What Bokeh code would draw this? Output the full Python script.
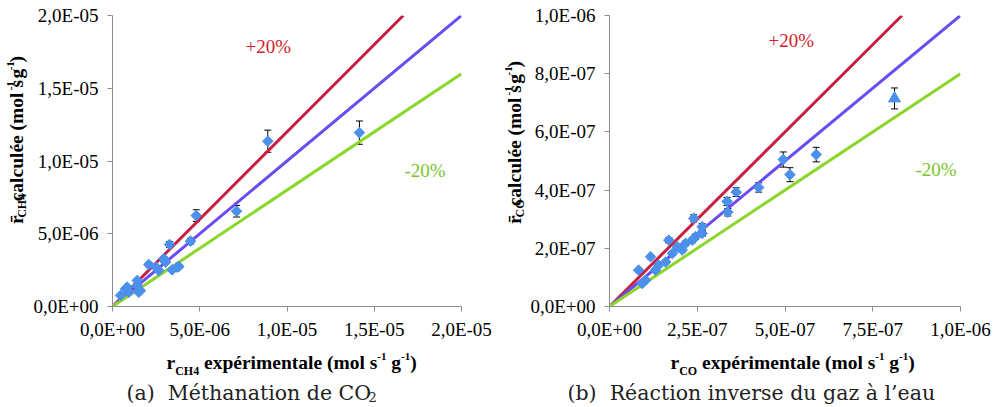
import math
from bokeh.plotting import figure
from bokeh.models import Label, Whisker, ColumnDataSource, FixedTicker, TeeHead, Range1d
from bokeh.layouts import row, column
from bokeh.embed import file_html
from bokeh.resources import INLINE

# ---------------- data ----------------
# (a) CO2 methanation, values in units of 1E-06 mol s-1 g-1
ch4_exp = [0.46, 0.74, 0.84, 0.93, 1.42, 1.51, 1.60, 1.41, 2.08, 2.65, 2.94, 3.04, 3.27, 3.42, 3.71, 3.80, 2.50, 4.47, 4.80, 7.11, 8.90, 14.15]
ch4_calc = [0.76, 1.22, 1.33, 0.98, 1.79, 0.98, 1.10, 1.44, 2.88, 2.47, 3.28, 3.05, 4.26, 2.52, 2.70, 2.75, 2.70, 4.49, 6.25, 6.55, 11.36, 11.95]
ch4_err = [0.05, 0.06, 0.06, 0.05, 0.08, 0.06, 0.06, 0.07, 0.15, 0.12, 0.15, 0.15, 0.20, 0.12, 0.13, 0.13, 0.12, 0.20, 0.40, 0.40, 0.76, 0.80]

# (b) reverse water-gas shift, values in units of 1E-07 mol s-1 g-1
co_exp = [0.83, 0.93, 1.03, 1.17, 1.31, 1.40, 1.60, 1.69, 1.79, 1.93, 2.07, 2.17, 2.36, 2.40, 2.45, 2.64, 2.64, 3.35, 3.37, 3.61, 4.25, 4.95, 5.14, 5.89]
co_calc = [1.25, 0.79, 0.90, 1.71, 1.25, 1.42, 1.53, 2.28, 1.82, 2.05, 1.94, 2.17, 2.28, 3.03, 2.40, 2.74, 2.51, 3.61, 3.24, 3.93, 4.09, 5.05, 4.53, 5.22]
co_err = [0.05, 0.04, 0.04, 0.07, 0.05, 0.06, 0.06, 0.09, 0.07, 0.08, 0.08, 0.08, 0.09, 0.12, 0.09, 0.11, 0.10, 0.14, 0.13, 0.15, 0.16, 0.26, 0.24, 0.25]
co_exp_tri = [8.12]
co_calc_tri = [7.15]
co_err_tri = [0.36]

left_ticks = [0, 5, 10, 15, 20]
left_tick_labels = ["0,0E+00", "5,0E-06", "1,0E-05", "1,5E-05", "2,0E-05"]
right_xticks = [0, 2.5, 5, 7.5, 10]
right_xtick_labels = ["0,0E+00", "2,5E-07", "5,0E-07", "7,5E-07", "1,0E-06"]
right_yticks = [0, 2, 4, 6, 8, 10]
right_ytick_labels = ["0,0E+00", "2,0E-07", "4,0E-07", "6,0E-07", "8,0E-07", "1,0E-06"]

band_slopes = [1.2, 1.0, 0.8]
band_colors = ["#C8203F", "#6A4CF0", "#8CD62C"]
band_texts = ["+20%", "-20%"]

caption_a = "(a)\u00a0 Méthanation de CO"
caption_a_sub = "2"
caption_b = "(b)\u00a0 Réaction inverse du gaz à l’eau"

# ---------------- styling / geometry ----------------
MARK = "#4B91EB"
AXIS = "#8C8C8C"
SERIF = "Liberation Serif"
CAP_FONT = "DejaVu Serif"
CAP_COLOR = "#222222"

PAGE_H = 407
HALF_W = 497
YT_W = 30            # width of the y-title strip
MAIN_H = 346         # height of the main plotting row
BOT_H = PAGE_H - MAIN_H
FRAME_TOP, FRAME_H = 15, 291
MID = 0.32           # distance baseline -> middle of text box, in em

BOLD_W = {' ': 250, '(': 333, ')': 333, '-': 333, '1': 500, '4': 500, 'C': 722, 'H': 778,
          'O': 778, 'a': 500, 'c': 444, 'e': 444, 'é': 444, 'g': 500, 'i': 278, 'l': 278,
          'm': 833, 'n': 556, 'o': 500, 'p': 556, 'r': 444, 's': 389, 't': 333, 'u': 556,
          'x': 500, '\u0304': 0}


def tw(text, size):
    return sum(BOLD_W.get(c, 500) for c in text) / 1000.0 * size


def overrides(ticks, labels):
    d = {}
    for t, l in zip(ticks, labels):
        d[t] = l
        d[f"{t:g}"] = l
    return d


def make_main(page_left, frame_left, frame_w, xmax, ymax, xticks, xlabels, yticks, ylabels):
    fig_left = page_left + YT_W
    fig_w = HALF_W - YT_W
    bl = frame_left - fig_left
    br = fig_w - bl - frame_w
    p = figure(width=fig_w, height=MAIN_H, x_range=Range1d(0, xmax), y_range=Range1d(0, ymax),
               output_backend="svg", toolbar_location=None,
               min_border_left=bl, min_border_right=br, min_border_top=FRAME_TOP,
               min_border_bottom=MAIN_H - FRAME_TOP - FRAME_H)
    p.outline_line_color = None
    p.grid.visible = False
    p.xaxis.ticker = FixedTicker(ticks=xticks)
    p.yaxis.ticker = FixedTicker(ticks=yticks)
    p.xaxis.major_label_overrides = overrides(xticks, xlabels)
    p.yaxis.major_label_overrides = overrides(yticks, ylabels)
    for ax in (p.xaxis[0], p.yaxis[0]):
        ax.axis_line_color = AXIS
        ax.major_tick_line_color = AXIS
        ax.minor_tick_line_color = None
        ax.major_tick_out = 5
        ax.major_tick_in = 0
        ax.major_label_text_font = SERIF
        ax.major_label_text_font_size = "19px"
        ax.major_label_text_color = "black"
    p.xaxis.major_label_standoff = 7
    p.yaxis.major_label_standoff = 9

    frame_bottom = FRAME_TOP + FRAME_H

    def fx(X):
        return (X - frame_left) / frame_w * xmax

    def fy(Y):
        return (frame_bottom - Y) / FRAME_H * ymax

    return p, fx, fy


def make_aux(width, height):
    p = figure(width=width, height=height, x_range=Range1d(0, width), y_range=Range1d(0, height),
               output_backend="svg", toolbar_location=None, x_axis_type=None, y_axis_type=None,
               min_border=0)
    p.outline_line_color = None
    p.grid.visible = False
    return p


def add_bands(p, xmax, ymax):
    for s, c in zip(band_slopes, band_colors):
        xe = min(xmax, ymax / s)
        p.line([0, xe], [0, s * xe], line_color=c, line_width=3)


def add_points(p, xs, ys, errs, marker, size, angle=0.0):
    src = ColumnDataSource(dict(x=xs, y=ys,
                                lo=[y - e for y, e in zip(ys, errs)],
                                hi=[y + e for y, e in zip(ys, errs)]))
    p.scatter("x", "y", source=src, marker=marker, size=size, angle=angle,
              fill_color=MARK, line_color=MARK, line_width=1)
    w = Whisker(source=src, base="x", lower="lo", upper="hi", line_color="black", line_width=1,
                lower_head=TeeHead(size=7, line_color="black", line_width=1),
                upper_head=TeeHead(size=7, line_color="black", line_width=1))
    p.add_layout(w)


def add_title_pieces(p, X, Y, pieces, vertical):
    """X, Y: local pixel position (from top-left of aux figure) of the start of the text baseline."""
    h = p.height
    pos = Y if vertical else X
    for text, size, shift in pieces:
        lead = len(text) - len(text.lstrip(" "))
        core = text.strip(" ")
        adv = tw(" " * lead, size)
        w = tw(core, size)
        c = MID * size
        if vertical:
            start = pos - adv
            lbl = Label(x=X - shift - c, y=h - (start - w / 2), text=core, angle=math.pi / 2,
                        text_font=SERIF, text_font_size=f"{size}px", text_font_style="bold",
                        text_color="black", text_align="center", text_baseline="middle")
            pos = start - w
        else:
            start = pos + adv
            lbl = Label(x=start + w / 2, y=h - (Y - shift - c), text=core,
                        text_font=SERIF, text_font_size=f"{size}px", text_font_style="bold",
                        text_color="black", text_align="center", text_baseline="middle")
            pos = start + w
        p.add_layout(lbl)


def txt(p, x, y, text, font, size, color):
    """x: data x of the left edge; y: data y of the middle of the text box."""
    p.add_layout(Label(x=x, y=y, text=text, text_font=font, text_font_size=f"{size}px",
                       text_color=color, text_align="left", text_baseline="middle"))


MAIN, SUB, SUP = 19.5, 12, 11

# ---------------- (a) ----------------
m1, fx1, fy1 = make_main(0, 112, 349, 20, 20, left_ticks, left_tick_labels, left_ticks, left_tick_labels)
add_bands(m1, 20, 20)
add_points(m1, ch4_exp, ch4_calc, ch4_err, "square", 7.5, math.pi / 4)
txt(m1, fx1(245), fy1(52 - MID * 19), band_texts[0], SERIF, 19, "#D0202E")
txt(m1, fx1(404), fy1(176 - MID * 19), band_texts[1], SERIF, 19, "#7AC52B")

yt1 = make_aux(YT_W, MAIN_H)
add_title_pieces(yt1, 22, 247,
                 [("r\u0304", MAIN, 0), ("CH4", SUB, -3), (" calculée (mol s", MAIN, 0),
                  ("-1", SUP, 8), (" g", MAIN, 0), ("-1", SUP, 8), (")", MAIN, 0)], True)

b1 = make_aux(HALF_W, BOT_H)
add_title_pieces(b1, 166, 368 - MAIN_H,
                 [("r", MAIN, 0), ("CH4", SUB, -6), (" expérimentale (mol s", MAIN, 0),
                  ("-1", SUP, 8), (" g", MAIN, 0), ("-1", SUP, 8), (")", MAIN, 0)], False)
txt(b1, 126, BOT_H - (399 - MAIN_H - MID * 20.5), caption_a, CAP_FONT, 20.5, CAP_COLOR)
txt(b1, 368, BOT_H - (401 - MAIN_H - MID * 13), caption_a_sub, CAP_FONT, 13, CAP_COLOR)

# ---------------- (b) ----------------
m2, fx2, fy2 = make_main(HALF_W, 609, 351, 10, 10, right_xticks, right_xtick_labels, right_yticks, right_ytick_labels)
add_bands(m2, 10, 10)
add_points(m2, co_exp, co_calc, co_err, "square", 7.5, math.pi / 4)
add_points(m2, co_exp_tri, co_calc_tri, co_err_tri, "triangle", 12)
txt(m2, fx2(768), fy2(46 - MID * 19), band_texts[0], SERIF, 19, "#D0202E")
txt(m2, fx2(915), fy2(175 - MID * 19), band_texts[1], SERIF, 19, "#7AC52B")

yt2 = make_aux(YT_W, MAIN_H)
add_title_pieces(yt2, 520 - HALF_W, 247,
                 [("r\u0304", MAIN, 0), ("CO", SUB, -3), (" calculée (mol s", MAIN, 0),
                  ("-1", SUP, 8), (" g", MAIN, 0), ("-1", SUP, 8), (")", MAIN, 0)], True)

b2 = make_aux(HALF_W, BOT_H)
add_title_pieces(b2, 670 - HALF_W, 368 - MAIN_H,
                 [("r", MAIN, 0), ("CO", SUB, -6), (" expérimentale (mol s", MAIN, 0),
                  ("-1", SUP, 8), (" g", MAIN, 0), ("-1", SUP, 8), (")", MAIN, 0)], False)
txt(b2, 567 - HALF_W, BOT_H - (399 - MAIN_H - MID * 20.5), caption_b, CAP_FONT, 20.5, CAP_COLOR)

layout = column(row(yt1, m1, yt2, m2), row(b1, b2))
open("out.html", "w").write(file_html(layout, INLINE))
